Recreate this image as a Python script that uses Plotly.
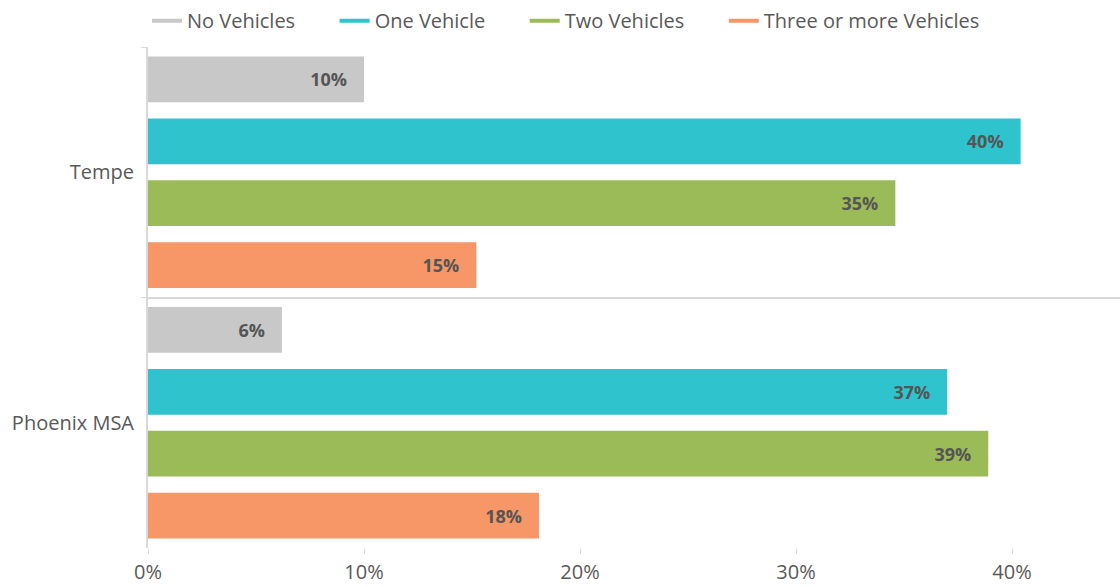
import plotly.graph_objects as go

categories = ["Tempe", "Phoenix MSA"]
series_names = ["No Vehicles", "One Vehicle", "Two Vehicles", "Three or more Vehicles"]
no_vehicles = [10.0, 6.2]
one_vehicle = [40.4, 37.0]
two_vehicles = [34.6, 38.9]
three_plus = [15.2, 18.1]
colors = ["#C8C8C8", "#2EC3CD", "#9BBB59", "#F79767"]
x_ticks = [0, 10, 20, 30, 40]
x_tick_labels = ["0%", "10%", "20%", "30%", "40%"]

series_values = [no_vehicles, one_vehicle, two_vehicles, three_plus]

fig = go.Figure()
nb = "\u00a0"
for i, (name, vals, col) in enumerate(zip(series_names, series_values, colors)):
    fig.add_trace(go.Bar(
        y=categories, x=vals, orientation="h", name=name,
        marker=dict(color=col, line=dict(width=0)),
        text=[f"{round(v)}%" + nb * 3 for v in vals],
        textposition="inside", insidetextanchor="end",
        textfont=dict(family="Open Sans", size=18, color="#555555", weight="bold"),
        showlegend=False, hoverinfo="skip",
    ))
    legend_name = name + (nb * 6 + "\u2009" if i < len(series_names) - 1 else "")
    fig.add_trace(go.Scatter(
        x=[None], y=[None], mode="lines", name=legend_name,
        line=dict(color=col, width=4), showlegend=True,
    ))

fig.update_layout(
    width=1120, height=587,
    margin=dict(l=148, r=0, t=47, b=39),
    paper_bgcolor="white", plot_bgcolor="white",
    barmode="group", bargap=0.012, bargroupgap=0.26,
    font=dict(family="Open Sans", size=20, color="#595959"),
    legend=dict(orientation="h", x=147 / 1120, xref="container", xanchor="left",
                y=0.998, yref="container", yanchor="top",
                font=dict(size=20, color="#595959"), itemwidth=30,
                traceorder="normal"),
    xaxis=dict(range=[0, 45], tickvals=x_ticks, ticktext=x_tick_labels,
               showgrid=False, zeroline=False, ticks="outside", ticklen=5,
               tickcolor="#D9D9D9", showline=False, automargin=False,
               ticklabelstandoff=1,
               tickfont=dict(size=20, color="#595959")),
    yaxis=dict(autorange="reversed", categoryorder="array", categoryarray=categories,
               tickson="boundaries", showgrid=True, gridcolor="#D9D9D9", gridwidth=2,
               ticks="outside", ticklen=5, tickcolor="#D9D9D9", automargin=False,
               showline=True, linecolor="#D9D9D9", linewidth=2,
               ticklabelstandoff=8,
               tickfont=dict(size=20, color="#595959")),
)

fig.write_html("out.html", config={"displayModeBar": False},
               post_script="document.body.style.margin='0';document.body.style.overflow='hidden';")
